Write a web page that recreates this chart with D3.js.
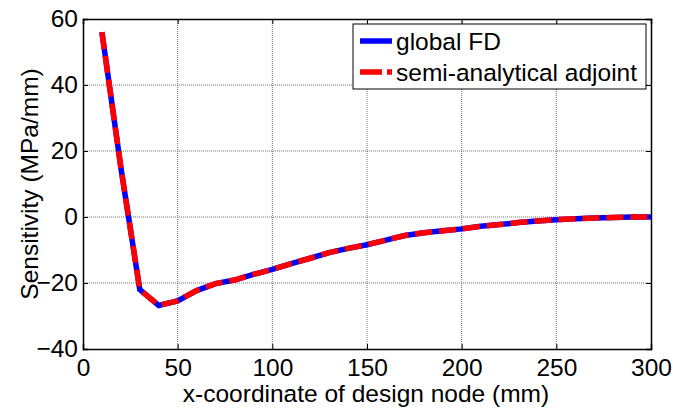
<!DOCTYPE html>
<html lang="en">
<head>
  <meta charset="UTF-8">
  <title>Sensitivity</title>
  <script src="https://d3js.org/d3.v7.min.js"></script>
  <style>
      body {
          margin: 0;
          padding: 0;
          background: #fff;
          font-family: Arial, 'Liberation Sans', sans-serif;
      }
      svg { display: block; }
  </style>
</head>
<body>
  <svg width="673" height="410"></svg>
  <script>
      // design node x-coordinates (mm)
      const xNodes = [10, 20, 30, 40, 50, 60, 70, 80, 90, 100, 110, 120, 130, 140, 150,
                      160, 170, 180, 190, 200, 210, 220, 230, 240, 250, 260, 270, 280, 290, 300];
      // sensitivity from global finite differences
      const globalFD = [56, 15, -22, -26.8, -25.4, -22.3, -20.2, -19.1, -17.4, -15.9, -14.1, -12.5, -10.8, -9.5, -8.4,
                        -7, -5.6, -4.8, -4.2, -3.6, -2.8, -2.3, -1.7, -1.2, -0.8, -0.5, -0.3, -0.15, 0, 0];
      // sensitivity from the semi-analytical adjoint method
      const adjoint = [56, 15, -22, -26.8, -25.4, -22.3, -20.2, -19.1, -17.4, -15.9, -14.1, -12.5, -10.8, -9.5, -8.4,
                       -7, -5.6, -4.8, -4.2, -3.6, -2.8, -2.3, -1.7, -1.2, -0.8, -0.5, -0.3, -0.15, 0, 0];
      const xTicks = [0, 50, 100, 150, 200, 250, 300];
      const yTicks = [-40, -20, 0, 20, 40, 60];

      const svg = d3.select("svg");
      const margin = {left: 83, top: 19, right: 22, bottom: 61};
      const width = 673 - margin.left - margin.right;
      const height = 410 - margin.top - margin.bottom;
      const fontSize = 24.5;

      const x = d3.scaleLinear().domain([0, 300]).range([0, width]);
      const y = d3.scaleLinear().domain([-40, 60]).range([height, 0]);

      const g = svg.append("g").attr("transform", `translate(${margin.left},${margin.top})`);

      // grid
      g.append("g").selectAll("line").data(xTicks.slice(1, -1)).join("line")
          .attr("x1", d => x(d)).attr("x2", d => x(d))
          .attr("y1", 0).attr("y2", height)
          .attr("stroke", "#707070").attr("stroke-width", 1).attr("stroke-dasharray", "1,1");
      g.append("g").selectAll("line").data(yTicks.slice(1, -1)).join("line")
          .attr("y1", d => y(d)).attr("y2", d => y(d))
          .attr("x1", 0).attr("x2", width)
          .attr("stroke", "#707070").attr("stroke-width", 1).attr("stroke-dasharray", "1,1");

      // axes with inward ticks
      const fmt = d3.format("d");
      g.append("g").attr("transform", `translate(0,${height})`)
          .call(d3.axisBottom(x).tickValues(xTicks).tickSize(-5).tickPadding(10).tickFormat(fmt));
      g.append("g")
          .call(d3.axisLeft(y).tickValues(yTicks).tickSize(-5).tickPadding(5).tickFormat(fmt));
      g.append("g").call(d3.axisTop(x).tickValues(xTicks).tickSize(-5).tickFormat(""));
      g.append("g").attr("transform", `translate(${width},0)`)
          .call(d3.axisRight(y).tickValues(yTicks).tickSize(-5).tickFormat(""));
      g.selectAll(".domain").attr("stroke", "#000").attr("stroke-width", 1.5);
      g.selectAll(".tick line").attr("stroke", "#000");
      g.selectAll(".tick text")
          .attr("font-family", "Arial, 'Liberation Sans', sans-serif")
          .attr("font-size", fontSize).attr("fill", "#000");

      // lines
      const line = d3.line().x((d, i) => x(xNodes[i])).y(d => y(d));
      g.append("path").datum(globalFD)
          .attr("d", line).attr("fill", "none")
          .attr("stroke", "#0000ff").attr("stroke-width", 5.5);
      g.append("path").datum(adjoint)
          .attr("d", line).attr("fill", "none")
          .attr("stroke", "#ff0000").attr("stroke-width", 5.5)
          .attr("stroke-dasharray", "17,7");

      // axis labels
      svg.append("text")
          .attr("x", margin.left + width / 2 - 1).attr("y", 402)
          .attr("text-anchor", "middle")
          .attr("font-size", fontSize)
          .text("x-coordinate of design node (mm)");
      svg.append("text")
          .attr("transform", `translate(38,${margin.top + height / 2}) rotate(-90)`)
          .attr("text-anchor", "middle")
          .attr("font-size", fontSize)
          .text("Sensitivity (MPa/mm)");

      // legend
      const legend = svg.append("g").attr("transform", "translate(353,24)");
      legend.append("rect")
          .attr("width", 293).attr("height", 65)
          .attr("fill", "#fff").attr("stroke", "#000").attr("stroke-width", 1);
      const items = [
          {label: "global FD", color: "#0000ff", dash: null},
          {label: "semi-analytical adjoint", color: "#ff0000", dash: "22,5"}
      ];
      items.forEach((it, i) => {
          const cy = 17 + i * 31;
          legend.append("line")
              .attr("x1", 7).attr("x2", 39).attr("y1", cy).attr("y2", cy)
              .attr("stroke", it.color).attr("stroke-width", 5.5)
              .attr("stroke-dasharray", it.dash);
          legend.append("text")
              .attr("x", 43).attr("y", cy + 8.5)
              .attr("font-size", fontSize)
              .text(it.label);
      });
  </script>
</body>
</html>
